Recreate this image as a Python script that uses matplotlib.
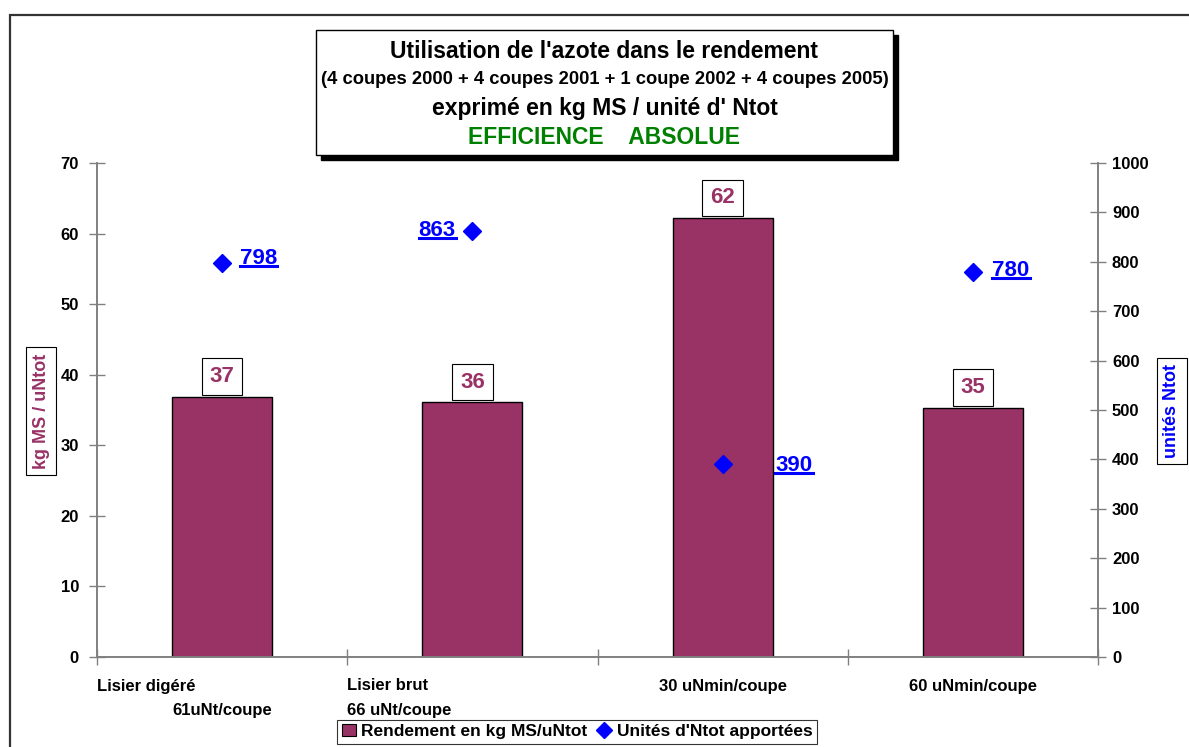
import matplotlib
matplotlib.use("Agg")
import matplotlib.pyplot as plt
from matplotlib.patches import Rectangle
from matplotlib.lines import Line2D
from matplotlib.transforms import blended_transform_factory

plt.rcParams["font.family"] = ["Liberation Sans", "DejaVu Sans"]
plt.rcParams["font.weight"] = "bold"

# data
categories = ["Lisier digéré", "Lisier brut", "30 uNmin/coupe", "60 uNmin/coupe"]
sub_labels = ["61uNt/coupe", "66 uNt/coupe", "", ""]
rendement = [36.9, 36.1, 62.2, 35.3]
rendement_lbl = ["37", "36", "62", "35"]
unites_ntot = [798, 863, 390, 780]
# label offsets (points) next to the blue diamonds
ntot_dx = [13, -12, 38, 14]
ntot_dy = [3, 0, -1, 1]

BAR = "#993366"
W, H = 1189, 747


def fx(x):
    return x / W


def fy(y):
    return 1 - y / H


fig = plt.figure(figsize=(W / 100, H / 100), dpi=100)
ax = fig.add_axes([fx(97), fy(657), fx(1098) - fx(97), fy(163) - fy(657)])
ax2 = ax.twinx()

xs = list(range(len(categories)))
ax.bar(xs, rendement, width=0.4, color=BAR, edgecolor="black", lw=1.0, zorder=2)
ax.set_xlim(-0.5, len(categories) - 0.5)
ax.set_ylim(0, 70)
ax.set_yticks(range(0, 71, 10))
ax2.set_ylim(0, 1000)
ax2.set_yticks(range(0, 1001, 100))

for a in (ax, ax2):
    a.spines["top"].set_visible(False)
    for s in ("left", "right", "bottom"):
        a.spines[s].set_color("#808080")
        a.spines[s].set_linewidth(1.2)
    a.tick_params(axis="y", direction="inout", length=12, width=1.0,
                  color="#808080", labelsize=12)
    for t in a.get_yticklabels():
        t.set_fontweight("bold")
ax.tick_params(axis="y", pad=7)
ax2.tick_params(axis="y", pad=4)

ax.set_xticks([x + 0.5 for x in xs[:-1]] + [-0.5, len(xs) - 0.5])
ax.set_xticklabels([])
ax.tick_params(axis="x", direction="inout", length=12, width=1.0, color="#808080")

# value labels on bars
for x, v, s in zip(xs, rendement, rendement_lbl):
    ax.annotate(s, (x, v), xytext=(0, 7), textcoords="offset points",
                ha="center", va="bottom", fontsize=16, fontweight="bold",
                color=BAR, zorder=5,
                bbox=dict(boxstyle="square,pad=0.35", fc="white", ec="black", lw=0.8))

# blue diamonds + underlined labels
ax2.plot(xs, unites_ntot, "D", color="#0000ff", ms=9, ls="none", zorder=4)
ntot_texts = []
for x, v, dx, dy in zip(xs, unites_ntot, ntot_dx, ntot_dy):
    ha = "left" if dx > 0 else "right"
    t = ax2.annotate(str(v), (x, v), xytext=(dx, dy), textcoords="offset points",
                     ha=ha, va="center", fontsize=16, fontweight="bold",
                     color="#0000ff", zorder=5)
    ntot_texts.append(t)

# category labels
tr = blended_transform_factory(ax.transData, fig.transFigure)
ax.text(-0.5, fy(686), categories[0], transform=tr, ha="left", va="center",
        fontsize=12, fontweight="bold")
ax.text(0.0, fy(710), sub_labels[0], transform=tr, ha="center", va="center",
        fontsize=12, fontweight="bold")
ax.text(0.5, fy(686), categories[1], transform=tr, ha="left", va="center",
        fontsize=12, fontweight="bold")
ax.text(0.5, fy(710), sub_labels[1], transform=tr, ha="left", va="center",
        fontsize=12, fontweight="bold")
for x in xs[2:]:
    ax.text(x, fy(686), categories[x], transform=tr, ha="center", va="center",
            fontsize=12, fontweight="bold")

# axis titles in boxes
fig.text(fx(41), fy(411), "kg MS / uNtot", rotation=90, ha="center", va="center",
         fontsize=13, fontweight="bold", color=BAR,
         bbox=dict(boxstyle="square,pad=0.35", fc="white", ec="black", lw=0.8))
fig.text(fx(1172), fy(411), "unités Ntot", rotation=90, ha="center", va="center",
         fontsize=13, fontweight="bold", color="#0000ff",
         bbox=dict(boxstyle="square,pad=0.35", fc="white", ec="black", lw=0.8))

# outer frame
fig.patches.append(Rectangle((fx(10), fy(760)), fx(1200) - fx(10), fy(15) - fy(760),
                             transform=fig.transFigure, fill=False,
                             ec="#333333", lw=1.6, zorder=0))

# title box with shadow
bx0, by0, bx1, by1 = 316, 30, 893, 155
fig.patches.append(Rectangle((fx(bx0 + 5), fy(by1 + 5)), fx(bx1) - fx(bx0), fy(by0) - fy(by1),
                             transform=fig.transFigure, fc="black", ec="black", zorder=1))
fig.patches.append(Rectangle((fx(bx0), fy(by1)), fx(bx1) - fx(bx0), fy(by0) - fy(by1),
                             transform=fig.transFigure, fc="white", ec="black", lw=1.0,
                             zorder=2))
cx = fx((bx0 + bx1) / 2)
fig.text(cx, fy(51), "Utilisation de l'azote dans le rendement", ha="center", va="center",
         fontsize=16.5, fontweight="bold", zorder=3)
fig.text(cx, fy(80), "(4 coupes 2000 + 4 coupes 2001 + 1 coupe 2002 + 4 coupes 2005)",
         ha="center", va="center", fontsize=13.2, fontweight="bold", zorder=3)
fig.text(cx, fy(108), "exprimé en kg MS / unité d' Ntot", ha="center", va="center",
         fontsize=16.5, fontweight="bold", zorder=3)
fig.text(cx, fy(137), "EFFICIENCE    ABSOLUE", ha="center", va="center",
         fontsize=16.5, fontweight="bold", color="#008000", zorder=3)

# legend
handles = [Rectangle((0, 0), 1, 1, fc=BAR, ec="black", lw=0.8),
           Line2D([], [], marker="D", color="#0000ff", ls="none", ms=8)]
leg = fig.legend(handles, ["Rendement en kg MS/uNtot", "Unités d'Ntot apportées"],
                 loc="upper center", bbox_to_anchor=(fx(577), fy(720)), ncol=2,
                 prop={"weight": "bold", "size": 12.5}, frameon=True,
                 fancybox=False, edgecolor="black", borderpad=0.25,
                 handlelength=0.8, handletextpad=0.3, columnspacing=0.6,
                 borderaxespad=0)
leg.get_frame().set_linewidth(0.8)

# underline blue labels
fig.canvas.draw()
r = fig.canvas.get_renderer()
for t in ntot_texts:
    bb = t.get_window_extent(r)
    y = bb.y0 + 3
    fig.add_artist(Line2D([bb.x0 / W, bb.x1 / W], [y / H, y / H],
                          transform=fig.transFigure, color="#0000ff", lw=2.2))

fig.savefig("out.png", dpi=100)
